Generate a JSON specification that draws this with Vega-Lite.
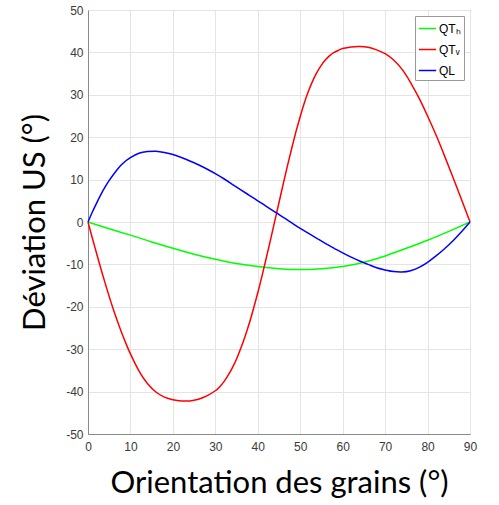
{
  "$schema": "https://vega.github.io/schema/vega-lite/v6.json",
  "width": 382,
  "height": 424,
  "autosize": {"type": "none"},
  "padding": {"left": 88, "top": 10, "right": 29, "bottom": 71},
  "background": "white",
  "config": {
    "view": {"stroke": "#8a8a8a", "strokeWidth": 1},
    "axis": {
      "labelFont": "Liberation Sans",
      "labelFontSize": 12,
      "labelColor": "#3a3a3a",
      "titleFont": "Lato",
      "titleFontSize": 31,
      "titleFontWeight": "normal",
      "titleColor": "#000000",
      "domainColor": "#8a8a8a",
      "gridColor": "#e4e4e4",
      "gridWidth": 1,
      "ticks": false
    },
    "legend": {
      "labelFont": "Liberation Sans",
      "labelFontSize": 12,
      "labelColor": "#000000"
    }
  },
  "data": {
    "values": [
      {"s": "QTₕ", "x": 0, "y": 0},
      {"s": "QTₕ", "x": 5, "y": -1.6},
      {"s": "QTₕ", "x": 10, "y": -3.1},
      {"s": "QTₕ", "x": 15, "y": -4.7},
      {"s": "QTₕ", "x": 20, "y": -6.2},
      {"s": "QTₕ", "x": 25, "y": -7.6},
      {"s": "QTₕ", "x": 30, "y": -8.8},
      {"s": "QTₕ", "x": 35, "y": -9.8},
      {"s": "QTₕ", "x": 40, "y": -10.5},
      {"s": "QTₕ", "x": 45, "y": -11.0},
      {"s": "QTₕ", "x": 50, "y": -11.2},
      {"s": "QTₕ", "x": 55, "y": -11.0},
      {"s": "QTₕ", "x": 60, "y": -10.5},
      {"s": "QTₕ", "x": 65, "y": -9.5},
      {"s": "QTₕ", "x": 70, "y": -8.0},
      {"s": "QTₕ", "x": 75, "y": -6.2},
      {"s": "QTₕ", "x": 80, "y": -4.3},
      {"s": "QTₕ", "x": 85, "y": -2.2},
      {"s": "QTₕ", "x": 90, "y": 0},

      {"s": "QTᵥ", "x": 0, "y": 0},
      {"s": "QTᵥ", "x": 1, "y": -3.7},
      {"s": "QTᵥ", "x": 2, "y": -7.3},
      {"s": "QTᵥ", "x": 3, "y": -10.9},
      {"s": "QTᵥ", "x": 4, "y": -14.3},
      {"s": "QTᵥ", "x": 5, "y": -17.6},
      {"s": "QTᵥ", "x": 6, "y": -20.7},
      {"s": "QTᵥ", "x": 7, "y": -23.6},
      {"s": "QTᵥ", "x": 8, "y": -26.3},
      {"s": "QTᵥ", "x": 9, "y": -28.8},
      {"s": "QTᵥ", "x": 10, "y": -31.1},
      {"s": "QTᵥ", "x": 12, "y": -35.1},
      {"s": "QTᵥ", "x": 14, "y": -38.1},
      {"s": "QTᵥ", "x": 16, "y": -40.1},
      {"s": "QTᵥ", "x": 18, "y": -41.3},
      {"s": "QTᵥ", "x": 20, "y": -41.9},
      {"s": "QTᵥ", "x": 22, "y": -42.2},
      {"s": "QTᵥ", "x": 24, "y": -42.2},
      {"s": "QTᵥ", "x": 26, "y": -41.8},
      {"s": "QTᵥ", "x": 28, "y": -41.0},
      {"s": "QTᵥ", "x": 30, "y": -39.8},
      {"s": "QTᵥ", "x": 31, "y": -38.9},
      {"s": "QTᵥ", "x": 32, "y": -37.7},
      {"s": "QTᵥ", "x": 33, "y": -36.2},
      {"s": "QTᵥ", "x": 34, "y": -34.4},
      {"s": "QTᵥ", "x": 35, "y": -32.3},
      {"s": "QTᵥ", "x": 36, "y": -29.8},
      {"s": "QTᵥ", "x": 37, "y": -27.0},
      {"s": "QTᵥ", "x": 38, "y": -23.9},
      {"s": "QTᵥ", "x": 39, "y": -20.4},
      {"s": "QTᵥ", "x": 40, "y": -16.7},
      {"s": "QTᵥ", "x": 41, "y": -12.7},
      {"s": "QTᵥ", "x": 42, "y": -8.5},
      {"s": "QTᵥ", "x": 43, "y": -4.2},
      {"s": "QTᵥ", "x": 44, "y": 0.2},
      {"s": "QTᵥ", "x": 45, "y": 4.6},
      {"s": "QTᵥ", "x": 46, "y": 9.0},
      {"s": "QTᵥ", "x": 47, "y": 13.3},
      {"s": "QTᵥ", "x": 48, "y": 17.4},
      {"s": "QTᵥ", "x": 49, "y": 21.3},
      {"s": "QTᵥ", "x": 50, "y": 24.9},
      {"s": "QTᵥ", "x": 51, "y": 28.2},
      {"s": "QTᵥ", "x": 52, "y": 31.0},
      {"s": "QTᵥ", "x": 53, "y": 33.4},
      {"s": "QTᵥ", "x": 54, "y": 35.4},
      {"s": "QTᵥ", "x": 55, "y": 37.0},
      {"s": "QTᵥ", "x": 56, "y": 38.3},
      {"s": "QTᵥ", "x": 57, "y": 39.3},
      {"s": "QTᵥ", "x": 58, "y": 40.0},
      {"s": "QTᵥ", "x": 59, "y": 40.5},
      {"s": "QTᵥ", "x": 60, "y": 40.9},
      {"s": "QTᵥ", "x": 62, "y": 41.3},
      {"s": "QTᵥ", "x": 64, "y": 41.4},
      {"s": "QTᵥ", "x": 66, "y": 41.2},
      {"s": "QTᵥ", "x": 68, "y": 40.6},
      {"s": "QTᵥ", "x": 70, "y": 39.7},
      {"s": "QTᵥ", "x": 72, "y": 38.2},
      {"s": "QTᵥ", "x": 74, "y": 36.0},
      {"s": "QTᵥ", "x": 76, "y": 32.9},
      {"s": "QTᵥ", "x": 78, "y": 29.2},
      {"s": "QTᵥ", "x": 80, "y": 25.0},
      {"s": "QTᵥ", "x": 82, "y": 20.5},
      {"s": "QTᵥ", "x": 84, "y": 15.6},
      {"s": "QTᵥ", "x": 86, "y": 10.5},
      {"s": "QTᵥ", "x": 88, "y": 5.3},
      {"s": "QTᵥ", "x": 90, "y": 0},

      {"s": "QL", "x": 0, "y": 0},
      {"s": "QL", "x": 1, "y": 2.3},
      {"s": "QL", "x": 2, "y": 4.4},
      {"s": "QL", "x": 3, "y": 6.4},
      {"s": "QL", "x": 4, "y": 8.2},
      {"s": "QL", "x": 5, "y": 9.8},
      {"s": "QL", "x": 6, "y": 11.2},
      {"s": "QL", "x": 7, "y": 12.5},
      {"s": "QL", "x": 8, "y": 13.6},
      {"s": "QL", "x": 9, "y": 14.5},
      {"s": "QL", "x": 10, "y": 15.2},
      {"s": "QL", "x": 12, "y": 16.2},
      {"s": "QL", "x": 14, "y": 16.6},
      {"s": "QL", "x": 16, "y": 16.7},
      {"s": "QL", "x": 18, "y": 16.4},
      {"s": "QL", "x": 20, "y": 15.9},
      {"s": "QL", "x": 22, "y": 15.2},
      {"s": "QL", "x": 24, "y": 14.4},
      {"s": "QL", "x": 26, "y": 13.5},
      {"s": "QL", "x": 28, "y": 12.5},
      {"s": "QL", "x": 30, "y": 11.4},
      {"s": "QL", "x": 32, "y": 10.2},
      {"s": "QL", "x": 34, "y": 8.9},
      {"s": "QL", "x": 36, "y": 7.6},
      {"s": "QL", "x": 38, "y": 6.3},
      {"s": "QL", "x": 40, "y": 5.0},
      {"s": "QL", "x": 42, "y": 3.7},
      {"s": "QL", "x": 44, "y": 2.4},
      {"s": "QL", "x": 46, "y": 1.1},
      {"s": "QL", "x": 48, "y": -0.2},
      {"s": "QL", "x": 50, "y": -1.5},
      {"s": "QL", "x": 52, "y": -2.7},
      {"s": "QL", "x": 54, "y": -3.9},
      {"s": "QL", "x": 56, "y": -5.1},
      {"s": "QL", "x": 58, "y": -6.2},
      {"s": "QL", "x": 60, "y": -7.3},
      {"s": "QL", "x": 62, "y": -8.3},
      {"s": "QL", "x": 64, "y": -9.2},
      {"s": "QL", "x": 66, "y": -10.0},
      {"s": "QL", "x": 68, "y": -10.8},
      {"s": "QL", "x": 70, "y": -11.3},
      {"s": "QL", "x": 72, "y": -11.7},
      {"s": "QL", "x": 74, "y": -11.8},
      {"s": "QL", "x": 76, "y": -11.5},
      {"s": "QL", "x": 78, "y": -10.7},
      {"s": "QL", "x": 80, "y": -9.5},
      {"s": "QL", "x": 82, "y": -8.0},
      {"s": "QL", "x": 84, "y": -6.3},
      {"s": "QL", "x": 86, "y": -4.4},
      {"s": "QL", "x": 88, "y": -2.3},
      {"s": "QL", "x": 90, "y": 0}
    ]
  },
  "mark": {"type": "line", "strokeWidth": 1.5, "interpolate": "natural"},
  "encoding": {
    "x": {
      "field": "x",
      "type": "quantitative",
      "scale": {"domain": [0, 90], "nice": false},
      "axis": {"values": [0, 10, 20, 30, 40, 50, 60, 70, 80, 90], "labelExpr": "toString(datum.value)", "title": "Orientation des grains (°)", "labelPadding": 7, "titlePadding": 16, "labelFlush": false}
    },
    "y": {
      "field": "y",
      "type": "quantitative",
      "scale": {"domain": [-50, 50], "nice": false},
      "axis": {"values": [-50, -40, -30, -20, -10, 0, 10, 20, 30, 40, 50], "labelExpr": "toString(datum.value)", "title": "Déviation US (°)", "labelPadding": 5, "titlePadding": 14, "labelFlush": false}
    },
    "color": {
      "field": "s",
      "type": "nominal",
      "sort": ["QTₕ", "QTᵥ", "QL"],
      "scale": {"domain": ["QTₕ", "QTᵥ", "QL"], "range": ["#00ff00", "#ff0000", "#0000ff"]},
      "legend": {
        "title": null,
        "orient": "top-right",
        "offset": 6,
        "fillColor": "white",
        "strokeColor": "#999999",
        "padding": 3,
        "symbolType": "stroke",
        "symbolSize": 300,
        "symbolStrokeWidth": 1.5,
        "rowPadding": 5,
        "labelOffset": 2
      }
    }
  }
}
